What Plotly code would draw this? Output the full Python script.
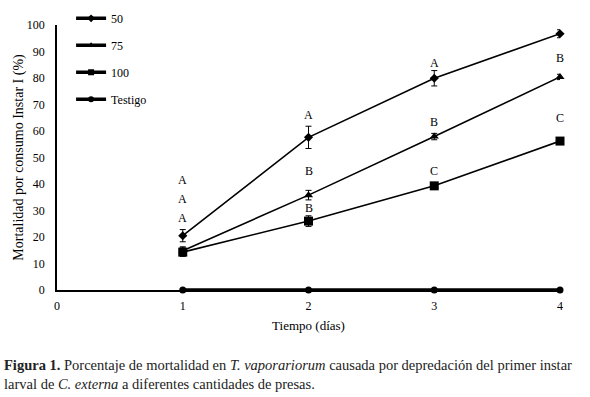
import plotly.graph_objects as go

days = [1, 2, 3, 4]
series_names = ["50", "75", "100", "Testigo"]
v50 = [20.5, 57.6, 79.9, 96.7]
e50 = [2.3, 4.2, 2.9, 1.5]
v75 = [14.8, 35.8, 57.9, 80.4]
e75 = [1.5, 1.8, 1.2, 1.0]
v100 = [14.3, 26.0, 39.3, 56.2]
e100 = [1.6, 2.0, 1.0, 0.8]
vtest = [0, 0, 0, 0]

# significance letters: (x, y, text)
letter_x = [1, 1, 1, 2, 2, 2, 3, 3, 3, 4, 4, 4]
letter_y = [41.5, 34.3, 27.3, 66.0, 45.0, 31.0, 85.5, 63.5, 45.0, 103.0, 87.5, 64.8]
letter_t = ["A", "A", "A", "A", "B", "B", "A", "B", "C", "A", "B", "C"]

yticks = [0, 10, 20, 30, 40, 50, 60, 70, 80, 90, 100]
xticks = [0, 1, 2, 3, 4]

SERIF = "Liberation Serif"
fig = go.Figure()

specs = [
    (v50, e50, "diamond", 7, 1.6),
    (v75, e75, "triangle-up", 8, 1.6),
    (v100, e100, "square", 9, 1.6),
    (vtest, None, "circle", 7, 3.5),
]
for name, (vals, errs, sym, ms, lw) in zip(series_names, specs):
    fig.add_trace(go.Scatter(
        x=days, y=vals, mode="lines+markers", name=name, showlegend=False,
        line=dict(color="black", width=lw),
        marker=dict(symbol=sym, size=ms, color="black"),
        error_y=(dict(type="data", array=errs, color="black", thickness=1, width=3)
                 if errs else None),
        cliponaxis=False,
    ))

# legend entries (thick line style as in the original legend)
for i, (name, (vals, errs, sym, ms, lw)) in enumerate(zip(series_names, specs)):
    fig.add_trace(go.Scatter(
        x=[None], y=[None], mode="lines+markers", name=name,
        legendgroup=f"g{i}", showlegend=True,
        line=dict(color="black", width=3.5),
        marker=dict(symbol=sym, size=6, color="black"),
    ))

for x, y, t in zip(letter_x, letter_y, letter_t):
    fig.add_annotation(x=x, y=y, text=t, showarrow=False, xref="x", yref="y",
                       font=dict(family=SERIF, size=12, color="black"))

fig.add_annotation(
    xref="paper", yref="paper", x=-0.11, y=-0.245, xanchor="left", yanchor="top",
    align="left", showarrow=False,
    text=("<b>Figura 1.</b> Porcentaje de mortalidad en <i>T. vaporariorum</i> causada por depredación del primer instar"
          "<br>larval de <i>C. externa</i> a diferentes cantidades de presas."),
    font=dict(family=SERIF, size=14.5, color="#222"),
)

fig.update_layout(
    template="none",
    width=590, height=397,
    margin=dict(l=57, r=30, t=25, b=107, autoexpand=False),
    paper_bgcolor="white", plot_bgcolor="white",
    font=dict(family=SERIF, size=12, color="black"),
    showlegend=True,
    legend=dict(x=0.028, y=1.08, xanchor="left", yanchor="top",
                bgcolor="rgba(0,0,0,0)", tracegroupgap=8,
                font=dict(family=SERIF, size=12, color="black"), itemwidth=30),
    xaxis=dict(range=[0, 4], tickvals=xticks, showgrid=False, zeroline=False,
               showline=True, linecolor="black", linewidth=1.5, ticks="",
               ticklabelstandoff=4, tickfont=dict(color="black"),
               title=dict(text="Tiempo (días)", font=dict(family=SERIF, size=13, color="black"),
                          standoff=9)),
    yaxis=dict(range=[0, 100], tickvals=yticks, showgrid=False, zeroline=False,
               showline=True, linecolor="black", linewidth=1.5, ticks="",
               ticklabelstandoff=8, tickfont=dict(color="black"),
               title=dict(text="Mortalidad por consumo Instar I (%)",
                          font=dict(family=SERIF, size=14, color="black"), standoff=0)),
)

fig.write_html("out.html", config={"displayModeBar": False},
               post_script="document.body.style.margin='0';")
